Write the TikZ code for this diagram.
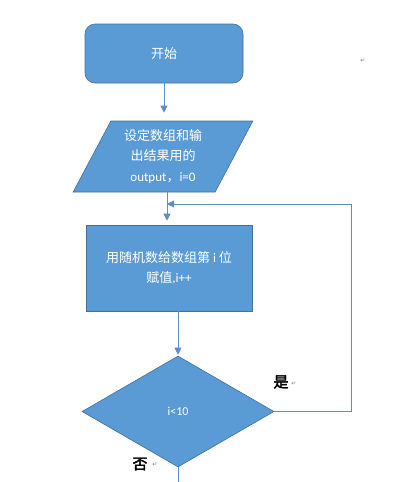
\documentclass[tikz,border=0pt]{standalone}
\usepackage{fontspec}
\setmainfont{Carlito}
\newfontfamily\cjk{Noto Sans CJK SC}
\newfontfamily\cjkb{Noto Sans CJK SC}[FakeBold=2.5]
\newfontfamily\symf{DejaVu Sans}
\usetikzlibrary{shapes.geometric,arrows.meta}
\definecolor{boxfill}{HTML}{5B9BD5}
\definecolor{boxline}{HTML}{41719C}
\definecolor{connc}{HTML}{5B8FC9}
\begin{document}
\begin{tikzpicture}[x=1pt,y=-1pt,
  box/.style={fill=boxfill,draw=boxline,line width=0.6pt,text=white,font=\cjk\fontsize{13}{20.5}\selectfont,align=center,inner sep=0pt},
  conn/.style={draw=connc,line width=0.9pt},
  arr/.style={conn,-{Triangle[length=7pt,width=7pt]}},
  pmark/.style={font=\symf\fontsize{6}{6}\selectfont,text=gray,inner sep=0pt},
  lbl/.style={font=\cjkb\fontsize{15}{15}\selectfont,text=black,inner sep=0pt}]
\useasboundingbox (0,0) rectangle (408,482);
\node[box,rounded corners=10pt,minimum width=158pt,minimum height=59pt] (start) at (164,53.5) {开始};
\node[box,trapezium,trapezium left angle=62.5,trapezium right angle=117.5,trapezium stretches=true,minimum width=180pt,minimum height=71pt] (input) at (163,156.5) {设定数组和输\\出结果用的\\{\rmfamily output}，{\rmfamily i=0}};
\node[box,minimum width=166pt,minimum height=86pt] (set) at (169,268) {用随机数给数组第 {\rmfamily i} 位\\赋值{\rmfamily ,i++}};
\node[box,diamond,minimum width=192pt,minimum height=111pt,font=\rmfamily\fontsize{12}{14}\selectfont] (cond) at (178,411.5) {i<10};
\coordinate (j) at (167,204);
\coordinate (r) at (351,204);
\coordinate (endc) at (178,482);
\draw[arr,shorten >=8pt] (start.south) -- (start.south |- input.north);
\draw[arr,shorten >=4pt] (j |- input.south) -- (j |- set.north);
\draw[arr,shorten >=1pt] (set.south -| cond.north) -- (cond.north);
\draw[arr] (cond.east) -- (cond.east -| r) -- (r) -- (j);
\draw[conn] (cond.south) -- (endc);
\node[lbl] (yes) at (281,382) {是};
\node[lbl] (no) at (140,464) {否};
\node[pmark] (m1) at (294,384) {↵};
\node[pmark] (m2) at (155,465) {↵};
\node[pmark] (m3) at (363,61) {↵};
\end{tikzpicture}
\end{document}
